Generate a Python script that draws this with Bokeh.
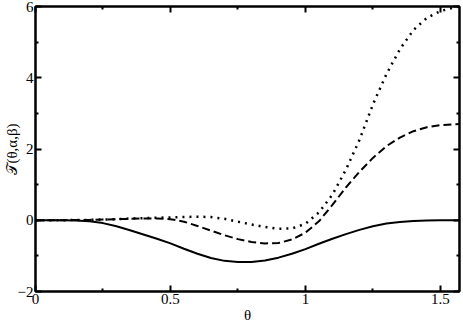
from bokeh.plotting import figure
from bokeh.models import LinearAxis, FixedTicker, Range1d
from bokeh.embed import file_html
from bokeh.resources import INLINE

# ---- data ----
theta = [0.00, 0.05, 0.10, 0.15, 0.20, 0.25, 0.30, 0.35, 0.40, 0.45,
         0.50, 0.55, 0.60, 0.65, 0.70, 0.75, 0.80, 0.85, 0.90, 0.95,
         1.00, 1.05, 1.10, 1.15, 1.20, 1.25, 1.30, 1.35, 1.40, 1.45,
         1.50, 1.55, 1.5708]

solid = [0.00, 0.00, 0.00, -0.01, -0.03, -0.08, -0.17, -0.28, -0.40, -0.52,
         -0.65, -0.80, -0.94, -1.06, -1.14, -1.17, -1.17, -1.13, -1.05, -0.94,
         -0.81, -0.66, -0.52, -0.39, -0.27, -0.17, -0.09, -0.05, -0.02, -0.01,
         0.00, 0.00, 0.00]

dashed = [0.00, 0.00, 0.00, 0.01, 0.01, 0.02, 0.03, 0.04, 0.05, 0.05,
          0.03, -0.04, -0.16, -0.29, -0.42, -0.53, -0.61, -0.65, -0.64, -0.54,
          -0.35, -0.03, 0.43, 0.92, 1.36, 1.75, 2.08, 2.32, 2.50, 2.61,
          2.67, 2.69, 2.70]

dotted = [0.00, 0.00, 0.00, 0.01, 0.01, 0.02, 0.03, 0.05, 0.06, 0.07,
          0.08, 0.09, 0.10, 0.09, 0.04, -0.04, -0.12, -0.19, -0.24, -0.23,
          -0.10, 0.22, 0.72, 1.42, 2.25, 3.25, 4.10, 4.80, 5.34, 5.68,
          5.87, 5.97, 6.00]

x_ticks = [0, 0.5, 1, 1.5]
x_tick_labels = ["0", "0.5", "1", "1.5"]
x_minor = [0.25, 0.75, 1.25]
y_ticks = [-2, 0, 2, 4, 6]
y_minor = [-1, 1, 3, 5]
x_title = "θ"
y_title = "𝒯(θ,α,β)"

FONT = "Liberation Serif"

p = figure(width=463, height=325,
           x_range=Range1d(0, 1.5708), y_range=Range1d(-2, 6),
           output_backend="svg", toolbar_location=None,
           min_border_left=35, min_border_right=4,
           min_border_top=6, min_border_bottom=32)
p.xaxis.visible = False
p.yaxis.visible = False
p.grid.visible = False
p.outline_line_color = "black"
p.outline_line_width = 2
p.background_fill_color = "white"
p.border_fill_color = "white"


def style_axis(ax, ticks, minor, show_labels):
    ax.ticker = FixedTicker(ticks=ticks, minor_ticks=minor)
    ax.major_tick_in = 6
    ax.major_tick_out = 0
    ax.minor_tick_in = 3
    ax.minor_tick_out = 0
    ax.major_tick_line_width = 2
    ax.minor_tick_line_width = 2
    ax.major_tick_line_color = "black"
    ax.minor_tick_line_color = "black"
    ax.axis_line_color = "black"
    ax.axis_line_width = 2
    ax.major_label_text_font = FONT
    if show_labels:
        ax.major_label_text_color = "black"
        ax.major_label_text_font_size = "15px"
        ax.major_label_standoff = 2
    else:
        ax.major_label_text_color = None
        ax.major_label_text_font_size = "1px"
        ax.major_label_standoff = 0
    ax.axis_label_text_font = FONT
    ax.axis_label_text_font_style = "normal"
    ax.axis_label_text_font_size = "15px"
    ax.axis_label_text_color = "black"
    ax.axis_label_standoff = 0


xb = LinearAxis()
style_axis(xb, x_ticks, x_minor, True)
xb.major_label_overrides = {t: l for t, l in zip(x_ticks, x_tick_labels)}
xb.axis_label = x_title
xb.axis_label_standoff = 0
p.add_layout(xb, "below")

yl = LinearAxis()
style_axis(yl, y_ticks, y_minor, True)
yl.major_label_standoff = 2
yl.axis_label = y_title
yl.axis_label_standoff = -5
p.add_layout(yl, "left")

xt = LinearAxis()
style_axis(xt, x_ticks, x_minor, False)
p.add_layout(xt, "above")

yr = LinearAxis()
style_axis(yr, y_ticks, y_minor, False)
p.add_layout(yr, "right")

p.line(theta, solid, line_color="black", line_width=2)
p.line(theta, dashed, line_color="black", line_width=2, line_dash="8 4")
p.line(theta, dotted, line_color="black", line_width=2.5, line_dash="2 5")

open("out.html", "w").write(file_html(p, INLINE))
